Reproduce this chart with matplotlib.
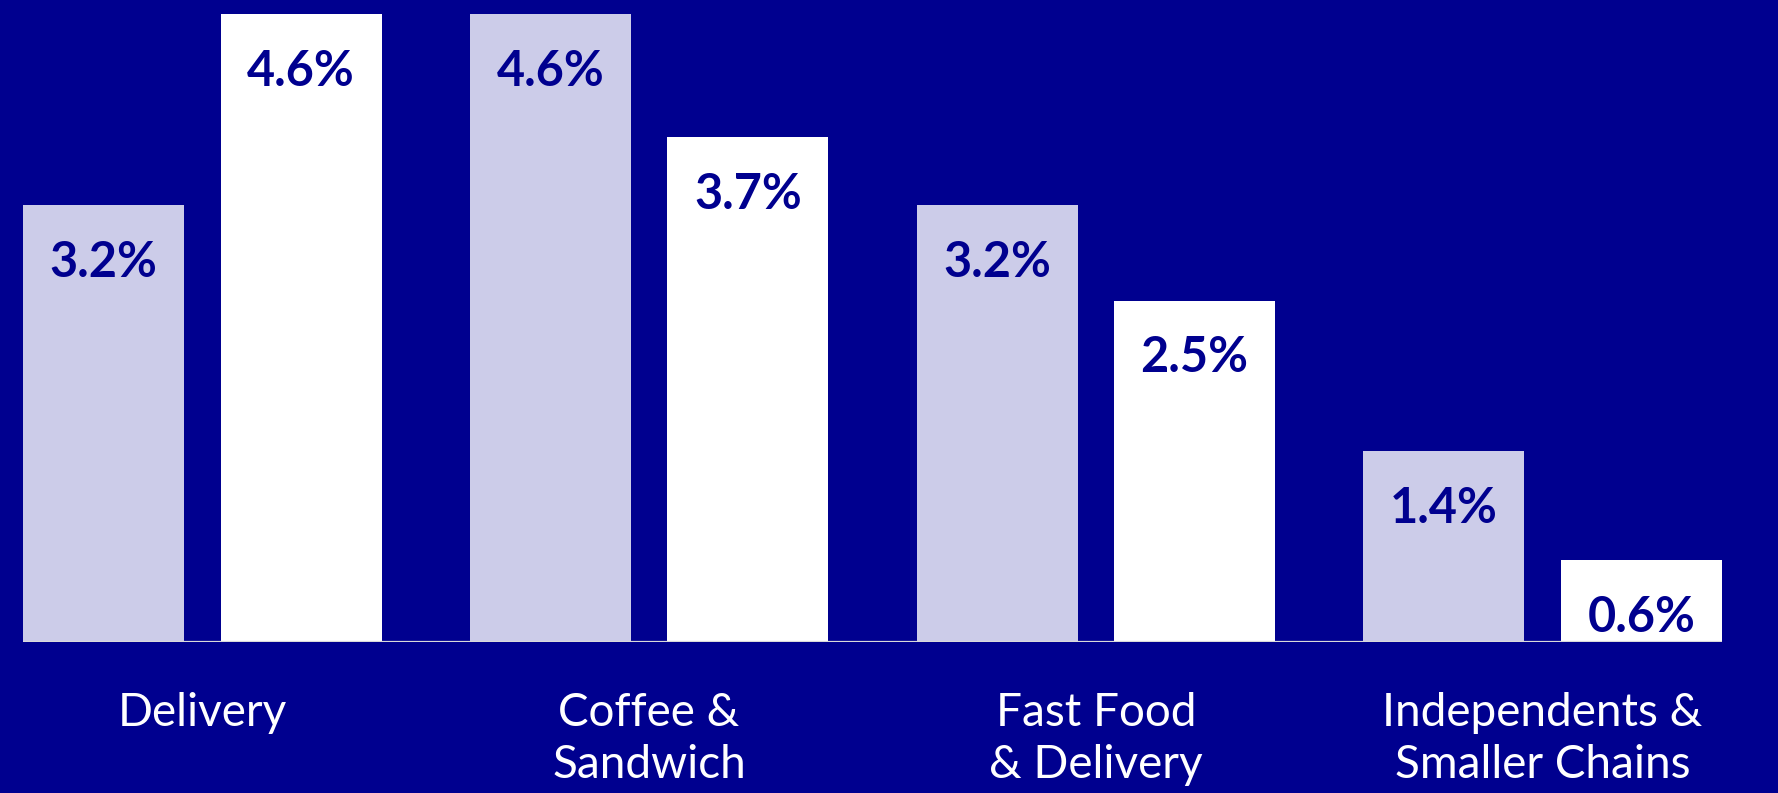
import numpy as np
import matplotlib.pyplot as plt

categories = ["Delivery", "Coffee &\nSandwich", "Fast Food\n& Delivery", "Independents &\nSmaller Chains"]
series_a = [3.2, 4.6, 3.2, 1.4]
series_b = [4.6, 3.7, 2.5, 0.6]

navy = "#00008F"
light = "#CCCCE9"

plt.rcParams["font.family"] = ["Lato", "DejaVu Sans"]

fig = plt.figure(figsize=(17.78, 7.93), dpi=100, facecolor=navy)
ax = fig.add_axes([0, 151 / 793, 1, 642 / 793])
ax.set_facecolor(navy)

x = np.arange(len(categories))
width = 0.36
off = 0.221

bars_a = ax.bar(x - off, series_a, width, color=light)
bars_b = ax.bar(x + off, series_b, width, color="white")

# thin baseline under the bars
ax.hlines(0, x[0] - off - width / 2, x[-1] + off + width / 2, color="#D9D9D9", lw=1.6, zorder=3)

for bars, vals in ((bars_a, series_a), (bars_b, series_b)):
    for b, v in zip(bars, vals):
        ax.annotate(f"{v:.1f}%", (b.get_x() + b.get_width() / 2, v),
                    xytext=(0, -25), textcoords="offset points",
                    ha="center", va="top", color=navy, fontsize=35, fontweight="bold")

ax.set_xlim(-0.453, 3.527)
ax.set_ylim(0, 642 / 136.5)
ax.set_xticks(x)
ax.set_xticklabels(categories, color="white", fontsize=33, linespacing=1.3)
ax.tick_params(axis="x", length=0, pad=36)
ax.set_yticks([])
for s in ax.spines.values():
    s.set_visible(False)

fig.savefig("out.png", dpi=100, facecolor=navy)
